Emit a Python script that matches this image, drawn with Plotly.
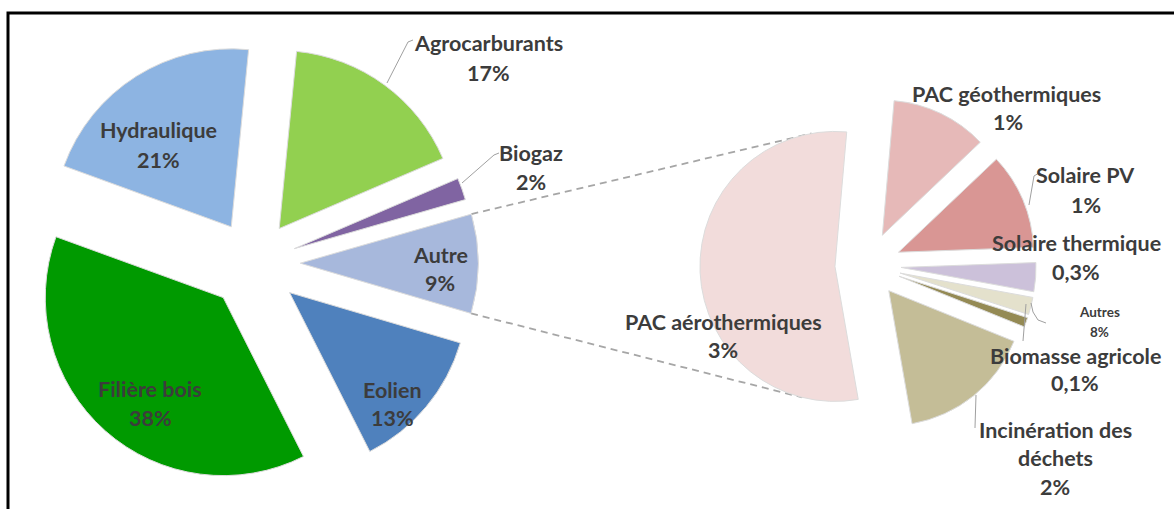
import math
import plotly.graph_objects as go

W, H = 1174, 509

# Renewable energy production by source (%)
main_labels = ["Hydraulique", "Agrocarburants", "Biogaz", "Autre", "Eolien", "Filière bois"]
main_values = [21, 17, 2, 9, 13, 38]
main_pct = ["21%", "17%", "2%", "9%", "13%", "38%"]

# Detail of the "Autre" share
sub_labels = ["PAC géothermiques", "Solaire PV", "Solaire thermique", "Autres",
              "Biomasse agricole", "Incinération des déchets", "PAC aérothermiques"]
sub_values = [1.0, 1.0, 0.3, 0.18, 0.1, 1.4, 4.7]
sub_pct = ["1%", "1%", "0,3%", "8%", "0,1%", "2%", "3%"]

# ---- styling -------------------------------------------------------------
main_colors = ["#8DB4E2", "#92D050", "#8064A2", "#A7B8DC", "#4F81BD", "#009A00"]
sub_colors = ["#E6B9B8", "#D99694", "#CCC1DA", "#E4E1CC", "#948A54", "#C4BD97", "#F2DCDB"]

# pie geometry in pixels: centre, radius, explosion, start angle (clockwise from 12 o'clock)
L_CX, L_CY, L_R = 254, 263, 178
L_PULL = [0.24, 0.24, 0.24, 0.26, 0.26, 0.26]
L_ROT = -70
R_CX, R_CY, R_R = 868, 265, 135
R_PULL = [0.245] * 7
R_ROT = 5
# where the connector lines meet the big slice of the detail pie (degrees)
LINK_ANGLES = (100, 256)

TXT = "#3C3C3C"
FONT = "Lato"
FS = 21.5


def px(x, y):
    return x / W, 1 - y / H


def domain(cx, cy, r, pulls):
    half = r * (1 + max(pulls))
    return dict(x=[(cx - half) / W, (cx + half) / W],
                y=[1 - (cy + half) / H, 1 - (cy - half) / H])


def slice_angles(values, rot):
    """start/end angles (math convention, degrees) for a clockwise pie"""
    tot = sum(values)
    out, a = [], rot
    for v in values:
        b = a + 360 * v / tot
        out.append((90 - a, 90 - b))
        a = b
    return out


def apex(cx, cy, r, pull, ang):
    s, e = ang
    m = math.radians((s + e) / 2)
    return cx + pull * r * math.cos(m), cy - pull * r * math.sin(m)


def on_circle(c, r, deg):
    return c[0] + r * math.cos(math.radians(deg)), c[1] - r * math.sin(math.radians(deg))


fig = go.Figure()

fig.add_trace(go.Pie(
    labels=main_labels, values=main_values, sort=False, direction="clockwise",
    rotation=L_ROT, pull=L_PULL, textinfo="none", hoverinfo="label+percent",
    marker=dict(colors=main_colors, line=dict(color="#DCDCDC", width=1)),
    domain=domain(L_CX, L_CY, L_R, L_PULL), showlegend=False,
))
fig.add_trace(go.Pie(
    labels=sub_labels, values=sub_values, sort=False, direction="clockwise",
    rotation=R_ROT, pull=R_PULL, textinfo="none", hoverinfo="label",
    marker=dict(colors=sub_colors, line=dict(color="#DCDCDC", width=1)),
    domain=domain(R_CX, R_CY, R_R, R_PULL), showlegend=False,
))

shapes = []

# connector lines from the "Autre" slice to the detail pie
la = slice_angles(main_values, L_ROT)
ia = main_labels.index("Autre")
a_apex = apex(L_CX, L_CY, L_R, L_PULL[ia], la[ia])
ra = slice_angles(sub_values, R_ROT)
ib = sub_labels.index("PAC aérothermiques")
b_apex = apex(R_CX, R_CY, R_R, R_PULL[ib], ra[ib])

for ang, end_ang in zip(la[ia], LINK_ANGLES):
    p0 = on_circle(a_apex, L_R, ang)
    p1 = on_circle(b_apex, R_R, end_ang)
    x0, y0 = px(*p0)
    x1, y1 = px(*p1)
    shapes.append(dict(type="line", xref="paper", yref="paper", x0=x0, y0=y0, x1=x1, y1=y1,
                       line=dict(color="#A6A6A6", width=1.8, dash="7px,5px"), layer="below"))

# leader lines for the outside labels
leaders = [
    [(413, 40), (408, 42), (387, 83)],
    [(499, 153), (494, 155), (462, 183)],
    [(1039, 173), (1034, 176), (1029, 205)],
    [(1031, 303), (1033, 312), (1038, 320), (1046, 323)],
    [(1026, 304), (1023, 341)],
    [(976, 395), (975, 428)],
]
for pts in leaders:
    d = ""
    for i, (x, y) in enumerate(pts):
        X, Y = px(x, y)
        d += ("M" if i == 0 else " L") + f" {X:.5f} {Y:.5f}"
    shapes.append(dict(type="path", xref="paper", yref="paper", path=d,
                       line=dict(color="#A0A0A0", width=1)))

# outer frame
fx0, fy0 = px(8, 13)
shapes.append(dict(type="rect", xref="paper", yref="paper", x0=fx0, y0=fy0, x1=1.02, y1=-0.02,
                   line=dict(color="black", width=3)))

# labels: (text, x, y, size)
label_lines = [
    (main_labels[0], 158, 130, FS), (main_pct[0], 158, 160, FS),
    (main_labels[1], 488, 43, FS), (main_pct[1], 488, 73, FS),
    (main_labels[2], 531, 153, FS), (main_pct[2], 531, 182, FS),
    (main_labels[3], 440, 255, FS), (main_pct[3], 440, 283, FS),
    (main_labels[4], 392, 390, FS), (main_pct[4], 392, 418, FS),
    (main_labels[5], 150, 389, FS), (main_pct[5], 150, 418, FS),
    (sub_labels[6], 723, 322, FS), (sub_pct[6], 723, 350, FS),
    (sub_labels[0], 1006, 94, FS), (sub_pct[0], 1008, 122, FS),
    (sub_labels[1], 1085, 175, FS), (sub_pct[1], 1086, 205, FS),
    (sub_labels[2], 1076, 243, FS), (sub_pct[2], 1076, 272, FS),
    (sub_labels[3], 1099, 312, 13.5), (sub_pct[3], 1099, 332, 13.5),
    (sub_labels[4], 1075, 356, FS), (sub_pct[4], 1075, 383, FS),
    ("Incinération des", 1055, 430, FS), ("déchets", 1055, 458, FS), (sub_pct[5], 1055, 487, FS),
]
annotations = []
for text, x, y, size in label_lines:
    X, Y = px(x, y)
    annotations.append(dict(text=text, x=X, y=Y, xref="paper", yref="paper",
                            xanchor="center", yanchor="middle", showarrow=False,
                            font=dict(family=FONT, size=size, color=TXT, weight="bold")))

fig.update_layout(
    width=W, height=H, margin=dict(l=0, r=0, t=0, b=0),
    paper_bgcolor="white", plot_bgcolor="white",
    shapes=shapes, annotations=annotations, showlegend=False,
)

fig.write_html("out.html", config={"displayModeBar": False})
